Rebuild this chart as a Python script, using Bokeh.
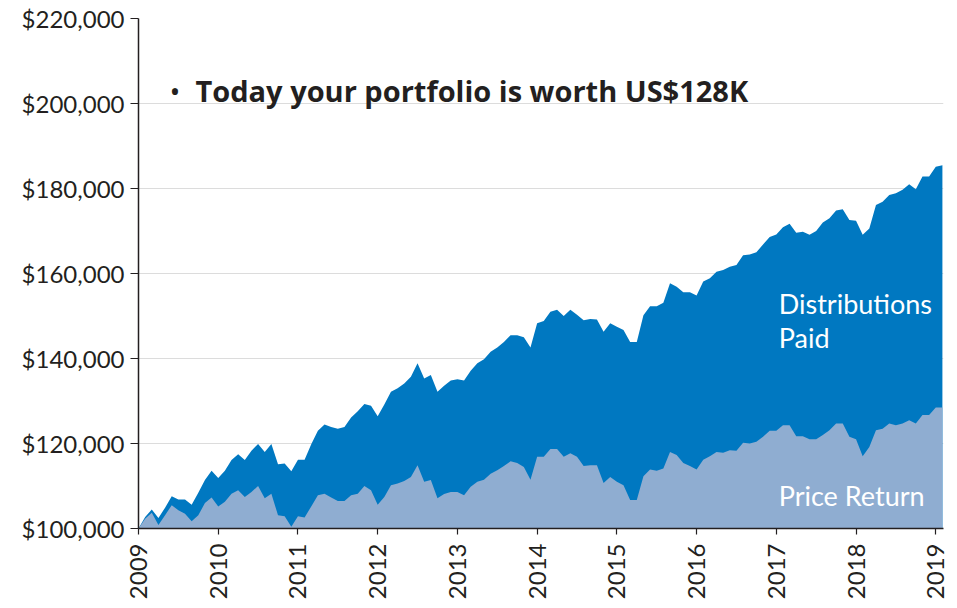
import math
from bokeh.plotting import figure
from bokeh.models import ColumnDataSource, FixedTicker, Label, Range1d
from bokeh.embed import file_html
from bokeh.resources import INLINE

# Monthly values (in $ thousands), Jan 2009 .. Feb 2019
month_index = list(range(122))
total_return_k = [
    100.0, 102.7, 104.5, 102.5, 104.9, 107.6, 106.8, 106.8, 105.6, 108.4, 111.4, 113.6,
    111.9, 113.6, 116.1, 117.5, 116.1, 118.3, 119.9, 118.0, 119.9, 115.1, 115.3, 113.5,
    116.2, 116.2, 119.8, 123.0, 124.5, 123.9, 123.5, 123.9, 126.1, 127.6, 129.3, 128.9,
    126.4, 129.2, 132.2, 133.0, 134.1, 135.7, 138.9, 135.3, 136.1, 132.2, 133.6, 134.8,
    135.1, 134.8, 137.1, 138.9, 139.8, 141.6, 142.6, 143.9, 145.5, 145.5, 145.0, 142.6,
    148.3, 148.8, 151.0, 151.5, 150.0, 151.5, 150.3, 149.0, 149.3, 149.2, 146.3, 148.3,
    147.5, 146.7, 143.9, 143.9, 150.2, 152.3, 152.3, 153.1, 157.7, 156.9, 155.6, 155.6,
    154.8, 158.1, 158.9, 160.4, 160.8, 161.6, 162.0, 164.3, 164.5, 165.0, 166.8, 168.6,
    169.2, 170.9, 171.7, 169.6, 169.8, 169.1, 170.0, 172.0, 173.0, 174.8, 175.1, 172.6,
    172.4, 169.1, 170.6, 176.1, 176.9, 178.5, 178.9, 179.7, 181.0, 179.8, 182.8, 182.8,
    185.1, 185.5,
]
price_return_k = [
    100.0, 102.3, 103.7, 100.8, 103.1, 105.5, 104.3, 103.5, 101.7, 103.1, 106.0, 107.3,
    105.2, 106.3, 108.2, 109.0, 107.4, 108.6, 110.0, 107.1, 108.2, 103.1, 102.9, 100.4,
    102.9, 102.6, 105.2, 107.8, 108.2, 107.3, 106.5, 106.5, 107.8, 108.2, 110.0, 109.0,
    105.6, 107.4, 110.2, 110.6, 111.2, 112.1, 114.9, 111.0, 111.4, 107.1, 108.1, 108.6,
    108.6, 107.8, 109.8, 111.0, 111.5, 112.9, 113.7, 114.7, 115.8, 115.4, 114.5, 111.5,
    116.9, 116.9, 118.7, 118.7, 116.9, 117.7, 116.9, 114.7, 114.9, 114.9, 110.7, 112.1,
    111.0, 110.2, 106.7, 106.7, 112.3, 113.9, 113.6, 114.1, 118.0, 117.3, 115.4, 114.7,
    113.9, 116.2, 117.0, 118.0, 117.8, 118.4, 118.3, 120.2, 120.0, 120.4, 121.6, 123.0,
    123.0, 124.3, 124.3, 121.7, 121.7, 121.0, 121.0, 122.0, 123.1, 124.7, 124.7, 121.6,
    121.0, 117.0, 119.2, 123.1, 123.5, 124.7, 124.3, 124.7, 125.5, 124.7, 126.7, 126.7,
    128.5, 128.5,
]
year_ticks = [2009, 2010, 2011, 2012, 2013, 2014, 2015, 2016, 2017, 2018, 2019]
y_ticks = [100, 120, 140, 160, 180, 200, 220]
y_tick_labels = ["$100,000", "$120,000", "$140,000", "$160,000", "$180,000", "$200,000", "$220,000"]
headline = "Today your portfolio is worth US$128K"

DARK = "#0078c1"
LIGHT = "#8fadd1"
INK = "#231f20"
FONT = "Lato"
HEAD_FONT = "Open Sans"

src = ColumnDataSource(dict(
    x=[2009 + m / 12 for m in month_index],
    base=[100.0] * len(month_index),
    total=total_return_k,
    price=price_return_k,
))

p = figure(
    output_backend="svg", toolbar_location=None,
    frame_width=805, frame_height=510,
    min_border_left=138, min_border_top=18, min_border_right=10, min_border_bottom=76,
    x_range=Range1d(2009, 2019.097), y_range=Range1d(100, 220),
)
p.outline_line_color = None
p.background_fill_color = "white"
p.border_fill_color = "white"

p.varea(x="x", y1="base", y2="total", source=src, fill_color=DARK)
p.varea(x="x", y1="base", y2="price", source=src, fill_color=LIGHT)

# axes
p.xgrid.grid_line_color = None
p.ygrid.grid_line_color = "#dcdcdc"
p.ygrid.grid_line_width = 1.2

p.yaxis.ticker = FixedTicker(ticks=y_ticks)
p.yaxis.major_label_overrides = {t: l for t, l in zip(y_ticks, y_tick_labels)}
p.xaxis.ticker = FixedTicker(ticks=year_ticks)
p.xaxis.major_label_overrides = {t: str(t) for t in year_ticks}
p.xaxis.major_label_orientation = math.pi / 2

for ax in (p.xaxis, p.yaxis):
    ax.axis_line_color = INK
    ax.axis_line_width = 1.5
    ax.major_tick_line_color = INK
    ax.major_tick_line_width = 1.2
    ax.major_tick_in = 0
    ax.minor_tick_line_color = None
    ax.major_label_text_font = FONT
    ax.major_label_text_font_size = "24px"
    ax.major_label_text_color = INK
p.yaxis.major_tick_out = 8
p.xaxis.major_tick_out = 6
p.yaxis.major_label_standoff = 6
p.xaxis.major_label_standoff = 9

p.add_layout(Label(x=2009.39, y=203.0, text="\u2022", text_font=HEAD_FONT,
                   text_font_size="29px", text_color=INK, text_baseline="alphabetic"))
p.add_layout(Label(x=2009.715, y=203.0, text=headline, text_font=HEAD_FONT, text_font_style="bold",
                   text_font_size="29px", text_color=INK, text_baseline="alphabetic"))
p.add_layout(Label(x=2017.03, y=153.0, text="Distributions", text_font=FONT,
                   text_font_size="27px", text_color="white", text_baseline="alphabetic"))
p.add_layout(Label(x=2017.03, y=144.9, text="Paid", text_font=FONT,
                   text_font_size="27px", text_color="white", text_baseline="alphabetic"))
p.add_layout(Label(x=2017.03, y=107.8, text="Price Return", text_font=FONT,
                   text_font_size="27px", text_color="white", text_baseline="alphabetic"))

open("out.html", "w").write(file_html(p, INLINE))
